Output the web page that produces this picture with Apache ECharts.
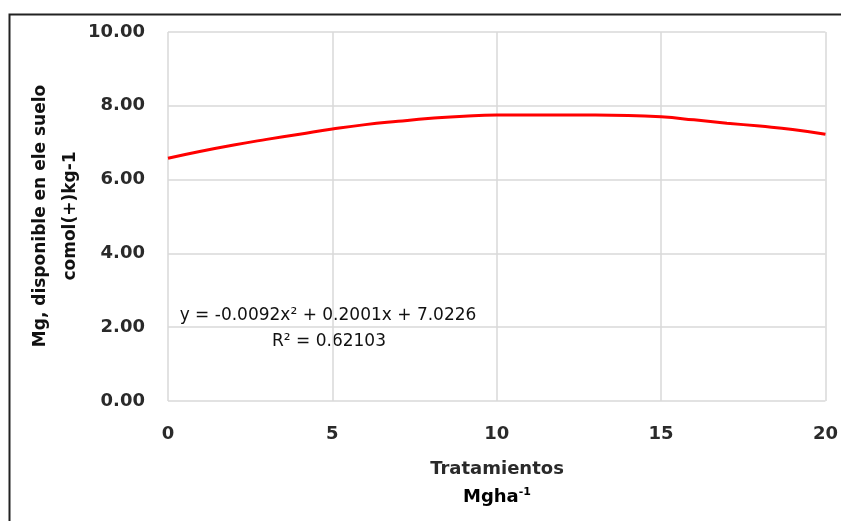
<!DOCTYPE html>
<html>
<head>
<meta charset="utf-8">
<script src="https://cdn.jsdelivr.net/npm/echarts@6/dist/echarts.min.js"></script>
<style>
  html, body { margin: 0; padding: 0; background: #fff; }
  #chart { width: 841px; height: 521px; }
</style>
</head>
<body>
<div id="chart"></div>
<script>
// Treatment dose (Mg ha-1) and fitted available Mg in soil
const doses = [0, 1, 2, 3, 4, 5, 6, 7, 8, 9, 10, 11, 12, 13, 14, 15, 16, 17, 18, 19, 20];
const mgValues = [6.58, 6.77, 6.94, 7.09, 7.23, 7.37, 7.49, 7.58, 7.66, 7.72, 7.75, 7.75, 7.75, 7.75, 7.74, 7.70, 7.62, 7.53, 7.45, 7.36, 7.23];

const xTicks = [0, 5, 10, 15, 20];
const yTicks = [0, 2, 4, 6, 8, 10];

const equationText = 'y = -0.0092x² + 0.2001x + 7.0226';
const r2Text = 'R² = 0.62103';
const yTitleLines = ['Mg, disponible en ele suelo', 'comol(+)kg-1'];
const xTitleLines = ['Tratamientos', 'Mgha'];

const FONT = 'DejaVu Sans';

const chart = echarts.init(document.getElementById('chart'), null, { renderer: 'canvas' });

chart.setOption({
  animation: false,
  backgroundColor: '#ffffff',
  grid: { left: 168, right: 15, top: 32, bottom: 120, containLabel: false },
  xAxis: {
    type: 'value',
    min: xTicks[0],
    max: xTicks[xTicks.length - 1],
    interval: 5,
    axisLine: { show: false },
    axisTick: { show: false },
    splitLine: { show: true, lineStyle: { color: '#d9d9d9', width: 1.5 } },
    axisLabel: {
      margin: 24,
      fontFamily: FONT, fontSize: 18, fontWeight: 'bold', color: '#2a2a2a'
    }
  },
  yAxis: {
    type: 'value',
    min: yTicks[0],
    max: yTicks[yTicks.length - 1],
    interval: 2,
    axisLine: { show: false },
    axisTick: { show: false },
    splitLine: { show: true, lineStyle: { color: '#d9d9d9', width: 1.5 } },
    axisLabel: {
      margin: 23,
      fontFamily: FONT, fontSize: 18, fontWeight: 'bold', color: '#2a2a2a',
      formatter: v => v.toFixed(2)
    }
  },
  series: [{
    type: 'line',
    data: doses.map((d, i) => [d, mgValues[i]]),
    smooth: true,
    showSymbol: false,
    lineStyle: { color: '#ff0000', width: 3 },
    z: 5
  }],
  graphic: [
    {
      type: 'polyline',
      shape: { points: [[9.5, 530], [9.5, 14.5], [850, 14.5]] },
      style: { stroke: '#222', lineWidth: 2, fill: null },
      silent: true
    },
    {
      type: 'text',
      style: {
        x: 328, y: 316, text: equationText, align: 'center', verticalAlign: 'middle',
        font: '17px "' + FONT + '"', fill: '#111'
      }
    },
    {
      type: 'text',
      style: {
        x: 329, y: 342, text: r2Text, align: 'center', verticalAlign: 'middle',
        font: '17px "' + FONT + '"', fill: '#111'
      }
    },
    {
      type: 'text',
      x: 41, y: 216, rotation: Math.PI / 2,
      style: {
        x: 0, y: 0, text: yTitleLines[0], align: 'center', verticalAlign: 'middle',
        font: 'bold 17px "' + FONT + '"', fill: '#111'
      }
    },
    {
      type: 'text',
      x: 71, y: 216, rotation: Math.PI / 2,
      style: {
        x: 0, y: 0, text: yTitleLines[1], align: 'center', verticalAlign: 'middle',
        font: 'bold 17px "' + FONT + '"', fill: '#111'
      }
    },
    {
      type: 'text',
      style: {
        x: 497, y: 469, text: xTitleLines[0], align: 'center', verticalAlign: 'middle',
        font: 'bold 18px "' + FONT + '"', fill: '#2a2a2a'
      }
    },
    {
      type: 'text',
      style: {
        x: 497, y: 497, align: 'center', verticalAlign: 'middle',
        text: '{b|' + xTitleLines[1] + '}{s|-1}',
        rich: {
          b: { fontFamily: FONT, fontSize: 18, fontWeight: 'bold', color: '#2a2a2a' },
          s: { fontFamily: FONT, fontSize: 11, fontWeight: 'bold', color: '#2a2a2a', verticalAlign: 'top', padding: [0, 0, 9, 0] }
        }
      }
    }
  ]
});
</script>
</body>
</html>
